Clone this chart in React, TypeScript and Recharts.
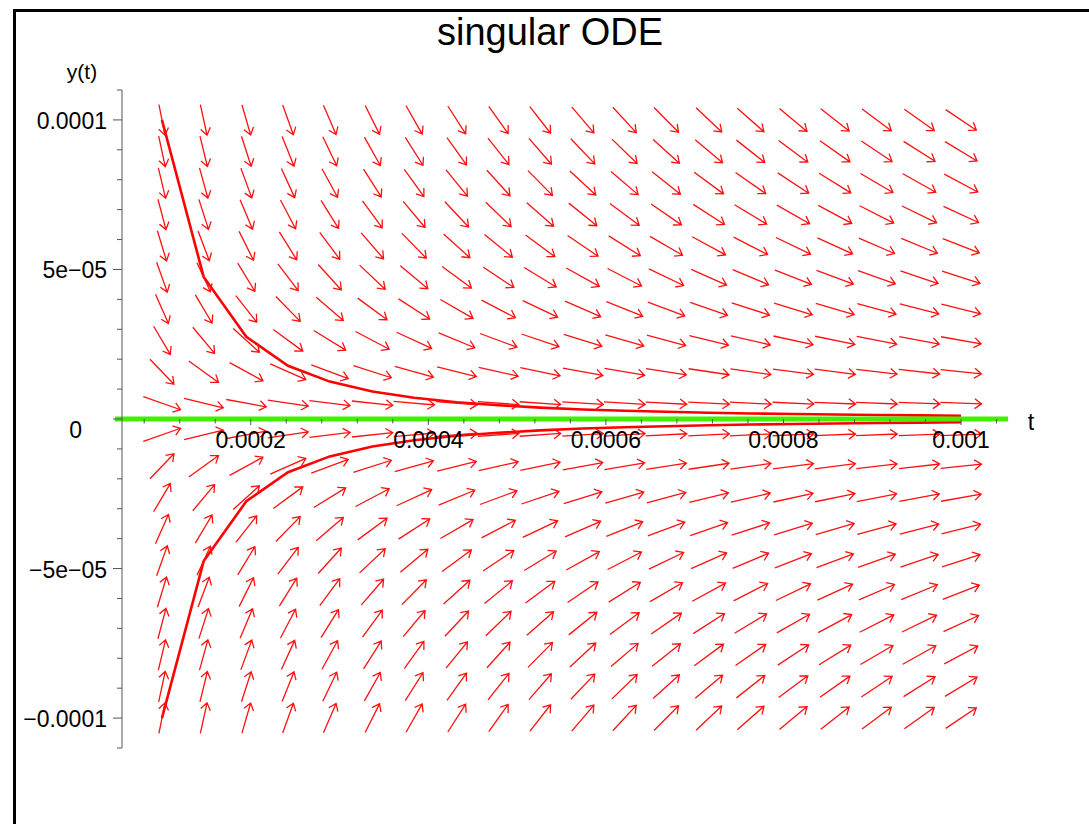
import { ComposedChart, Line, ReferenceLine, Scatter, XAxis, YAxis } from 'recharts'

// direction field grid (t columns, y rows top -> bottom) and slope dy/dt at each cell
const FIELD_T = [
  1.0e-4, 1.47e-4, 1.95e-4, 2.42e-4, 2.89e-4, 3.37e-4, 3.84e-4, 4.32e-4, 4.79e-4, 5.26e-4,
  5.74e-4, 6.21e-4, 6.68e-4, 7.16e-4, 7.63e-4, 8.11e-4, 8.58e-4, 9.05e-4, 9.53e-4, 1.0e-3,
]
const FIELD_Y = [
  1.0e-4, 8.95e-5, 7.89e-5, 6.84e-5, 5.79e-5, 4.74e-5, 3.68e-5, 2.63e-5, 1.58e-5, 5.3e-6,
  -5.3e-6, -1.58e-5, -2.63e-5, -3.68e-5, -4.74e-5, -5.79e-5, -6.84e-5, -7.89e-5, -8.95e-5, -1.0e-4,
]
const FIELD_SLOPE = [
  [-1.5, -1.357, -1.027, -0.826, -0.691, -0.594, -0.521, -0.463, -0.418, -0.38, -0.349, -0.322, -0.299, -0.279, -0.262, -0.247, -0.233, -0.221, -0.21, -0.2],
  [-1.38, -1.214, -0.919, -0.739, -0.618, -0.531, -0.466, -0.415, -0.374, -0.34, -0.312, -0.288, -0.268, -0.25, -0.234, -0.221, -0.209, -0.198, -0.188, -0.179],
  [-1.25, -1.071, -0.811, -0.652, -0.545, -0.469, -0.411, -0.366, -0.33, -0.3, -0.275, -0.254, -0.236, -0.22, -0.207, -0.195, -0.184, -0.174, -0.166, -0.158],
  [-1.12, -0.929, -0.703, -0.565, -0.473, -0.406, -0.356, -0.317, -0.286, -0.26, -0.239, -0.22, -0.205, -0.191, -0.179, -0.169, -0.159, -0.151, -0.144, -0.137],
  [-0.98, -0.786, -0.595, -0.478, -0.4, -0.344, -0.302, -0.268, -0.242, -0.22, -0.202, -0.186, -0.173, -0.162, -0.152, -0.143, -0.135, -0.128, -0.122, -0.116],
  [-0.83, -0.643, -0.486, -0.391, -0.327, -0.281, -0.247, -0.219, -0.198, -0.18, -0.165, -0.153, -0.142, -0.132, -0.124, -0.117, -0.11, -0.105, -0.099, -0.095],
  [-0.67, -0.5, -0.378, -0.304, -0.255, -0.219, -0.192, -0.171, -0.154, -0.14, -0.129, -0.119, -0.11, -0.103, -0.097, -0.091, -0.086, -0.081, -0.077, -0.074],
  [-0.5, -0.357, -0.27, -0.217, -0.182, -0.156, -0.137, -0.122, -0.11, -0.1, -0.092, -0.085, -0.079, -0.073, -0.069, -0.065, -0.061, -0.058, -0.055, -0.053],
  [-0.31, -0.214, -0.162, -0.13, -0.109, -0.094, -0.082, -0.073, -0.066, -0.06, -0.055, -0.051, -0.047, -0.044, -0.041, -0.039, -0.037, -0.035, -0.033, -0.032],
  [-0.105, -0.071, -0.054, -0.043, -0.036, -0.031, -0.027, -0.024, -0.022, -0.02, -0.018, -0.017, -0.016, -0.015, -0.014, -0.013, -0.012, -0.012, -0.011, -0.011],
  [0.105, 0.071, 0.054, 0.043, 0.036, 0.031, 0.027, 0.024, 0.022, 0.02, 0.018, 0.017, 0.016, 0.015, 0.014, 0.013, 0.012, 0.012, 0.011, 0.011],
  [0.31, 0.214, 0.162, 0.13, 0.109, 0.094, 0.082, 0.073, 0.066, 0.06, 0.055, 0.051, 0.047, 0.044, 0.041, 0.039, 0.037, 0.035, 0.033, 0.032],
  [0.5, 0.357, 0.27, 0.217, 0.182, 0.156, 0.137, 0.122, 0.11, 0.1, 0.092, 0.085, 0.079, 0.073, 0.069, 0.065, 0.061, 0.058, 0.055, 0.053],
  [0.67, 0.5, 0.378, 0.304, 0.255, 0.219, 0.192, 0.171, 0.154, 0.14, 0.129, 0.119, 0.11, 0.103, 0.097, 0.091, 0.086, 0.081, 0.077, 0.074],
  [0.83, 0.643, 0.486, 0.391, 0.327, 0.281, 0.247, 0.219, 0.198, 0.18, 0.165, 0.153, 0.142, 0.132, 0.124, 0.117, 0.11, 0.105, 0.099, 0.095],
  [0.98, 0.786, 0.595, 0.478, 0.4, 0.344, 0.302, 0.268, 0.242, 0.22, 0.202, 0.186, 0.173, 0.162, 0.152, 0.143, 0.135, 0.128, 0.122, 0.116],
  [1.12, 0.929, 0.703, 0.565, 0.473, 0.406, 0.356, 0.317, 0.286, 0.26, 0.239, 0.22, 0.205, 0.191, 0.179, 0.169, 0.159, 0.151, 0.144, 0.137],
  [1.25, 1.071, 0.811, 0.652, 0.545, 0.469, 0.411, 0.366, 0.33, 0.3, 0.275, 0.254, 0.236, 0.22, 0.207, 0.195, 0.184, 0.174, 0.166, 0.158],
  [1.38, 1.214, 0.919, 0.739, 0.618, 0.531, 0.466, 0.415, 0.374, 0.34, 0.312, 0.288, 0.268, 0.25, 0.234, 0.221, 0.209, 0.198, 0.188, 0.179],
  [1.5, 1.357, 1.027, 0.826, 0.691, 0.594, 0.521, 0.463, 0.418, 0.38, 0.349, 0.322, 0.299, 0.279, 0.262, 0.247, 0.233, 0.221, 0.21, 0.2],
]

// solution curves
const SOLUTION_T = FIELD_T
const UPPER_Y = [
  1.0e-4, 4.75e-5, 2.75e-5, 1.78e-5, 1.25e-5, 9.2e-6, 7.1e-6, 5.6e-6, 4.6e-6, 3.8e-6,
  3.2e-6, 2.75e-6, 2.4e-6, 2.1e-6, 1.85e-6, 1.65e-6, 1.5e-6, 1.35e-6, 1.2e-6, 1.1e-6,
]
const LOWER_Y = [
  -1.0e-4, -4.75e-5, -2.75e-5, -1.78e-5, -1.25e-5, -9.2e-6, -7.1e-6, -5.6e-6, -4.6e-6, -3.8e-6,
  -3.2e-6, -2.75e-6, -2.4e-6, -2.1e-6, -1.85e-6, -1.65e-6, -1.5e-6, -1.35e-6, -1.2e-6, -1.1e-6,
]
const ZERO_T = [0.000047, 0.001053]

const X_TICKS = [
  0.00008, 0.00012, 0.00016, 0.0002, 0.00024, 0.00028, 0.00032, 0.00036, 0.0004, 0.00044, 0.00048,
  0.00052, 0.00056, 0.0006, 0.00064, 0.00068, 0.00072, 0.00076, 0.0008, 0.00084, 0.00088, 0.00092,
  0.00096, 0.001, 0.00104,
]
const X_MAJOR = [0.0002, 0.0004, 0.0006, 0.0008, 0.001]
const X_MAJOR_LABELS = ['0.0002', '0.0004', '0.0006', '0.0008', '0.001']
const Y_TICKS = [
  -0.00011, -0.0001, -0.00009, -0.00008, -0.00007, -0.00006, -0.00005, -0.00004, -0.00003, -0.00002,
  -0.00001, 0, 0.00001, 0.00002, 0.00003, 0.00004, 0.00005, 0.00006, 0.00007, 0.00008, 0.00009,
  0.0001, 0.00011,
]
const Y_MAJOR = [0.0001, 0.00005, 0, -0.00005, -0.0001]
const Y_MAJOR_LABELS = ['0.0001', '5e\u221205', '0', '\u22125e\u221205', '\u22120.0001']

const X_MIN = 0.000055
const X_MAX = 0.001045
const Y_MIN = -0.00011
const Y_MAX = 0.00011

const W = 1089
const H = 824
const PLOT_LEFT = 122
const PLOT_TOP = 90
const PLOT_W = 879
const PLOT_H = 658
const KX = PLOT_W / (X_MAX - X_MIN)
const KY = PLOT_H / (Y_MAX - Y_MIN)
const ZERO_Y = PLOT_TOP + KY * Y_MAX
const GX = (KX * (FIELD_T[FIELD_T.length - 1] - FIELD_T[0])) / (FIELD_T.length - 1)
const GY = (KY * (FIELD_Y[0] - FIELD_Y[FIELD_Y.length - 1])) / (FIELD_Y.length - 1)
const FONT = "'Liberation Sans', Arial, Helvetica, sans-serif"

const fieldPoints = FIELD_Y.flatMap((y, r) =>
  FIELD_T.map((t, c) => ({ t, y, slope: FIELD_SLOPE[r][c] }))
)
const upperCurve = SOLUTION_T.map((t, i) => ({ t, y: UPPER_Y[i] }))
const lowerCurve = SOLUTION_T.map((t, i) => ({ t, y: LOWER_Y[i] }))

const ARROW_LEN = 0.98
const HEAD_LEN = 8.5
const HEAD_ANG = 0.62

const FieldArrow = (props: any) => {
  const { cx, cy, payload } = props
  if (cx == null || cy == null) return <g />
  const u = KX / GX
  const v = (-KY * payload.slope) / GY
  const n = Math.hypot(u, v)
  const px = (u / n) * GX * ARROW_LEN
  const py = (v / n) * GY * ARROW_LEN
  const x1 = cx - px / 2
  const y1 = cy - py / 2
  const x2 = cx + px / 2
  const y2 = cy + py / 2
  const a = Math.atan2(py, px)
  const hx1 = x2 - HEAD_LEN * Math.cos(a - HEAD_ANG)
  const hy1 = y2 - HEAD_LEN * Math.sin(a - HEAD_ANG)
  const hx2 = x2 - HEAD_LEN * Math.cos(a + HEAD_ANG)
  const hy2 = y2 - HEAD_LEN * Math.sin(a + HEAD_ANG)
  return (
    <path
      d={`M${x1},${y1}L${x2},${y2}M${hx1},${hy1}L${x2},${y2}L${hx2},${hy2}`}
      stroke="#ff1010"
      strokeWidth={1.3}
      fill="none"
    />
  )
}

const XTick = ({ x, payload }: any) => {
  const i = X_MAJOR.findIndex((m) => Math.abs(m - payload.value) < 1e-12)
  return (
    <g>
      <line x1={x} x2={x} y1={ZERO_Y} y2={ZERO_Y + (i >= 0 ? 6 : 4.5)} stroke="#555" />
      {i >= 0 && (
        <text x={x} y={ZERO_Y + 29} textAnchor="middle" fontSize={23} fontFamily={FONT} fill="#000">
          {X_MAJOR_LABELS[i]}
        </text>
      )}
    </g>
  )
}

const YTick = ({ y, payload }: any) => {
  const i = Y_MAJOR.findIndex((m) => Math.abs(m - payload.value) < 1e-12)
  const isZero = i === 2
  return (
    <g>
      <line x1={PLOT_LEFT - (i >= 0 ? 9 : 5)} x2={PLOT_LEFT} y1={y} y2={y} stroke="#555" />
      {i >= 0 && (
        <text
          x={isZero ? 82 : 107}
          y={y + (isZero ? 19 : 9)}
          textAnchor="end"
          fontSize={23}
          fontFamily={FONT}
          fill="#000"
        >
          {Y_MAJOR_LABELS[i]}
        </text>
      )}
    </g>
  )
}

export default function App() {
  return (
    <div
      style={{
        position: 'absolute',
        left: 0,
        top: 0,
        width: W,
        height: H,
        overflow: 'hidden',
        background: '#fff',
      }}
    >
      <ComposedChart
        width={W}
        height={H}
        margin={{ top: PLOT_TOP, right: W - PLOT_LEFT - PLOT_W, bottom: H - PLOT_TOP - PLOT_H - 30, left: PLOT_LEFT - 60 }}
      >
        <XAxis
          type="number"
          dataKey="t"
          domain={[X_MIN, X_MAX]}
          ticks={X_TICKS}
          interval={0}
          allowDataOverflow
          axisLine={false}
          tickLine={false}
          tick={<XTick />}
          height={30}
        />
        <YAxis
          type="number"
          dataKey="y"
          domain={[Y_MIN, Y_MAX]}
          ticks={Y_TICKS}
          interval={0}
          allowDataOverflow
          axisLine={{ stroke: '#555' }}
          tickLine={false}
          tick={<YTick />}
          width={60}
        />
        <ReferenceLine y={0} stroke="#555" />
        <Scatter data={fieldPoints} dataKey="y" shape={FieldArrow} isAnimationActive={false} />
        <Line
          data={upperCurve}
          dataKey="y"
          type="linear"
          stroke="#ff0000"
          strokeWidth={2.6}
          dot={false}
          activeDot={false}
          isAnimationActive={false}
        />
        <Line
          data={lowerCurve}
          dataKey="y"
          type="linear"
          stroke="#ff0000"
          strokeWidth={2.6}
          dot={false}
          activeDot={false}
          isAnimationActive={false}
        />
        <ReferenceLine
          segment={[
            { x: ZERO_T[0], y: 0 },
            { x: ZERO_T[1], y: 0 },
          ]}
          ifOverflow="visible"
          stroke="#44ee00"
          strokeWidth={5}
        />
      </ComposedChart>
      <svg
        width={W}
        height={H}
        style={{ position: 'absolute', left: 0, top: 0, pointerEvents: 'none' }}
      >
        <line x1={14.5} x2={14.5} y1={9} y2={H} stroke="#000" strokeWidth={3} />
        <line x1={13} x2={W} y1={10.5} y2={10.5} stroke="#000" strokeWidth={3} />
        <text x={550} y={45} textAnchor="middle" fontSize={38} fontFamily={FONT} fill="#000">
          singular ODE
        </text>
        <text x={82} y={79} textAnchor="middle" fontSize={21} fontFamily={FONT} fill="#000">
          y(t)
        </text>
        <text x={1031} y={430} textAnchor="middle" fontSize={23} fontFamily={FONT} fill="#000">
          t
        </text>
      </svg>
    </div>
  )
}
